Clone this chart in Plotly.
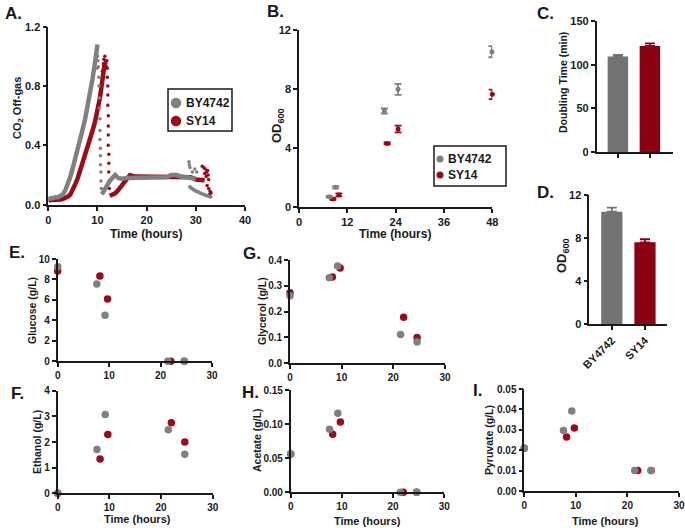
import plotly.graph_objects as go

# ---------------- data ----------------
strains = ["BY4742", "SY14"]

# A. CO2 off-gas
a_by_rise_t = [0, 0.5, 1, 1.5, 2, 2.5, 3, 3.5, 4, 4.5, 5, 5.5, 6, 6.5, 7, 7.5, 8, 8.5, 9, 9.5, 10]
a_by_rise_v = [0.04, 0.04, 0.045, 0.05, 0.05, 0.06, 0.07, 0.1, 0.14, 0.19, 0.25, 0.31, 0.37, 0.44, 0.51, 0.58, 0.66, 0.75, 0.85, 0.96, 1.08]
a_by_drop_t = [9.9, 10.0, 10.1, 10.2, 10.3, 10.3, 10.4, 10.4, 10.5, 10.5, 10.5, 10.6, 10.6, 10.6, 10.7, 10.7, 10.8]
a_by_drop_v = [0.92, 1.0, 0.97, 0.93, 0.86, 0.8, 0.72, 0.65, 0.58, 0.5, 0.44, 0.38, 0.33, 0.27, 0.22, 0.16, 0.11]
a_by_plat_t = [10.9, 11.2, 11.6, 12.0, 12.5, 13.0, 13.6, 14.2, 15, 16, 18, 20, 22, 24, 25, 26, 27, 28, 29, 30]
a_by_plat_v = [0.07, 0.09, 0.11, 0.13, 0.16, 0.18, 0.2, 0.18, 0.175, 0.18, 0.18, 0.18, 0.18, 0.185, 0.2, 0.2, 0.19, 0.185, 0.18, 0.175]
a_by_tail_t = [28.8, 29.2, 29.6, 30.0, 30.5, 31.0, 31.5, 32.0, 32.5, 33.0]
a_by_tail_v = [0.12, 0.11, 0.1, 0.092, 0.085, 0.078, 0.07, 0.064, 0.058, 0.054]
a_by_spike_t = [28.6, 28.7, 28.8, 29.3, 29.8, 30.2]
a_by_spike_v = [0.29, 0.27, 0.25, 0.22, 0.24, 0.22]

a_sy_rise_t = [0, 0.5, 1, 1.5, 2, 2.5, 3, 3.5, 4, 4.5, 5, 5.5, 6, 6.5, 7, 7.5, 8, 8.5, 9, 9.5, 10, 10.5, 11, 11.5]
a_sy_rise_v = [0.03, 0.03, 0.03, 0.03, 0.035, 0.035, 0.04, 0.045, 0.055, 0.07, 0.1, 0.14, 0.18, 0.23, 0.28, 0.33, 0.38, 0.44, 0.5, 0.56, 0.63, 0.72, 0.84, 0.96]
a_sy_drop_t = [11.0, 11.2, 11.3, 11.5, 11.6, 11.7, 11.8, 11.9, 12.0, 12.0, 12.1, 12.1, 12.1, 12.2, 12.2, 12.2, 12.2, 12.3, 12.3, 12.3, 12.4, 12.4]
a_sy_drop_v = [0.9, 0.95, 0.98, 1.0, 0.97, 0.95, 0.93, 0.97, 0.92, 0.86, 0.8, 0.74, 0.67, 0.6, 0.53, 0.47, 0.4, 0.34, 0.28, 0.22, 0.16, 0.11]
a_sy_plat_t = [12.5, 13.0, 13.5, 14.0, 14.5, 15.0, 15.5, 16.0, 16.6, 17.5, 19, 21, 23, 25, 27, 29, 30, 31, 31.8]
a_sy_plat_v = [0.06, 0.065, 0.075, 0.09, 0.11, 0.13, 0.15, 0.17, 0.2, 0.19, 0.19, 0.19, 0.19, 0.19, 0.19, 0.185, 0.17, 0.165, 0.165]
a_sy_tail_t = [31.3, 31.6, 31.9, 32.2, 32.5, 31.8, 32.1, 32.4, 32.6, 32.3, 32.6, 32.9, 33.1, 32.8]
a_sy_tail_v = [0.26, 0.25, 0.24, 0.22, 0.2, 0.21, 0.19, 0.23, 0.17, 0.13, 0.11, 0.09, 0.08, 0.07]

# B. OD600 over time
b_by_t = [7.5, 9.1, 21.2, 24.6, 47.9]
b_by_od = [0.68, 1.32, 6.5, 7.97, 10.53]
b_by_err = [0.06, 0.08, 0.17, 0.37, 0.38]
b_sy_t = [8.4, 9.9, 21.9, 24.6, 48.0]
b_sy_od = [0.52, 0.8, 4.3, 5.28, 7.63]
b_sy_err = [0.06, 0.1, 0.06, 0.23, 0.32]

# C. doubling time (min), D. final OD600
c_doubling = [109.5, 121.7]
c_doubling_err = [2.0, 3.0]
d_od = [10.47, 7.62]
d_od_err = [0.38, 0.28]

# E-I. metabolites (g/L)
t_by = [0, 7.6, 9.2, 21.4, 24.6]
t_sy = [0, 8.2, 9.7, 22.0, 24.6]
glucose_by = [9.25, 7.56, 4.5, 0, 0]
glucose_sy = [8.83, 8.34, 6.09, 0, 0]
glycerol_by = [0.262, 0.331, 0.377, 0.112, 0.0825]
glycerol_sy = [0.273, 0.334, 0.369, 0.178, 0.1]
ethanol_by = [0, 1.71, 3.07, 2.48, 1.52]
ethanol_sy = [0, 1.34, 2.29, 2.75, 2.0]
acetate_by = [0.0562, 0.0924, 0.1158, 0, 0]
acetate_sy = [0.056, 0.085, 0.103, 0, 0]
pyruvate_by = [0.0211, 0.0296, 0.0392, 0.01, 0.01]
pyruvate_sy = [0.021, 0.0265, 0.0309, 0.01, 0.01]

# ---------------- styling ----------------
W, H = 685, 528
GREY = "#808080"
RED = "#9b0a17"
BAR_GREY = "#737373"
BAR_RED = "#8b0012"
INK = "#1a1a1a"
FONT = "Liberation Sans, Arial, sans-serif"

fig = go.Figure()


def ax(i):
    return ("x" if i == 1 else f"x{i}"), ("y" if i == 1 else f"y{i}")


def scat(i, x, y, color, size, mode="markers", lw=0, **kw):
    xa, ya = ax(i)
    d = dict(x=x, y=y, mode=mode, xaxis=xa, yaxis=ya, showlegend=False,
             cliponaxis=False, hoverinfo="x+y")
    if "markers" in mode:
        d["marker"] = dict(color=color, size=size, line=dict(width=0))
    if "lines" in mode:
        d["line"] = dict(color=color, width=lw)
    d.update(kw)
    fig.add_trace(go.Scatter(**d))


# A (red first so grey sits on top)
scat(1, a_sy_rise_t, a_sy_rise_v, RED, 0, mode="lines", lw=4.5, name="SY14")
scat(1, a_sy_plat_t, a_sy_plat_v, RED, 0, mode="lines", lw=4.5, name="SY14")
scat(1, a_sy_drop_t, a_sy_drop_v, RED, 3.5, name="SY14")
scat(1, a_sy_tail_t, a_sy_tail_v, RED, 3.5, name="SY14")
scat(1, a_by_rise_t, a_by_rise_v, GREY, 0, mode="lines", lw=4.5, name="BY4742")
scat(1, a_by_plat_t, a_by_plat_v, GREY, 0, mode="lines", lw=4.5, name="BY4742")
scat(1, a_by_drop_t, a_by_drop_v, GREY, 3.5, name="BY4742")
scat(1, a_by_tail_t, a_by_tail_v, GREY, 4, name="BY4742")
scat(1, a_by_spike_t, a_by_spike_v, GREY, 3.5, name="BY4742")

# B
scat(2, b_sy_t, b_sy_od, RED, 5, name="SY14",
     error_y=dict(type="data", array=b_sy_err, color=RED, thickness=1.8, width=3.5))
scat(2, b_by_t, b_by_od, GREY, 5, name="BY4742",
     error_y=dict(type="data", array=b_by_err, color=GREY, thickness=1.8, width=3.5))

# C and D bars
for i, vals, errs in [(3, c_doubling, c_doubling_err), (4, d_od, d_od_err)]:
    xa, ya = ax(i)
    for k, col in enumerate([BAR_GREY, BAR_RED]):
        fig.add_trace(go.Bar(x=[strains[k]], y=[vals[k]], xaxis=xa, yaxis=ya,
                             marker=dict(color=col, line=dict(width=0)), width=0.64,
                             showlegend=False, name=strains[k],
                             error_y=dict(type="data", symmetric=False, array=[errs[k]],
                                          arrayminus=[0], color=col, thickness=1.8, width=5)))

# E-I
for i, ysy, yby in [(5, glucose_sy, glucose_by), (6, glycerol_sy, glycerol_by),
                    (7, ethanol_sy, ethanol_by), (8, acetate_sy, acetate_by),
                    (9, pyruvate_sy, pyruvate_by)]:
    scat(i, t_sy, ysy, RED, 7.5, name="SY14")
    scat(i, t_by, yby, GREY, 7.5, name="BY4742")

# ---------------- axes ----------------
# panel boxes in pixels: (left, right, top, bottom)
boxes = {
    1: (48.3, 245.0, 26.7, 204.7),
    2: (299.0, 492.3, 30.0, 206.7),
    3: (596.7, 672.7, 21.3, 152.0),
    4: (589.3, 666.7, 195.3, 324.0),
    5: (57.7, 212.0, 259.0, 361.3),
    6: (290.0, 445.0, 260.0, 363.3),
    7: (57.7, 212.7, 390.7, 493.3),
    8: (290.7, 444.3, 390.0, 492.3),
    9: (524.3, 679.0, 389.0, 491.0),
}
ranges = {
    1: ([0, 40], 10, [0, 1.2], 0.4, ".1f"),
    2: ([0, 48], 12, [0, 12], 4, "d"),
    3: ([-0.6625, 1.7125], None, [0, 150], 50, "d"),
    4: ([-0.68, 1.655], None, [0, 12], 4, "d"),
    5: ([0, 30], 10, [0, 10], 2, "d"),
    6: ([0, 30], 10, [0, 0.4], 0.1, ".1f"),
    7: ([0, 30], 10, [0, 4], 1, "d"),
    8: ([0, 30], 10, [0, 0.15], 0.05, ".2f"),
    9: ([0, 30], 10, [0, 0.05], 0.01, ".2f"),
}

layout_axes = {}
for i, (l, r, t, b) in boxes.items():
    xr, xd, yr, yd, yf = ranges[i]
    fs = 11 if i <= 4 else 10
    common = dict(showline=True, linecolor=INK, linewidth=1.6, ticks="outside", ticklen=4,
                  tickwidth=1.6, tickcolor=INK, showgrid=False, zeroline=False, automargin=False,
                  tickfont=dict(family=FONT, size=fs, color=INK, weight="bold"), fixedrange=True)
    xa_name = "xaxis" if i == 1 else f"xaxis{i}"
    ya_name = "yaxis" if i == 1 else f"yaxis{i}"
    xa = dict(common, domain=[l / W, r / W], range=xr, anchor=ax(i)[1])
    if xd is not None:
        xa.update(dtick=xd, tick0=0, tickformat="d")
    else:
        xa.update(type="category")
        if i == 3:
            xa.update(showticklabels=False)
        else:
            xa.update(tickangle=-45, tickfont=dict(family=FONT, size=11, color=INK, weight="bold"))
    ya = dict(common, domain=[1 - b / H, 1 - t / H], range=yr, dtick=yd, tick0=0,
              tickformat=yf, anchor=ax(i)[0])
    layout_axes[xa_name] = xa
    layout_axes[ya_name] = ya

# ---------------- annotations ----------------
ann = []


def text(s, xpx, ypx, size, angle=0, xanchor="center", yanchor="middle"):
    ann.append(dict(text=s, x=xpx / W, y=1 - ypx / H, xref="paper", yref="paper",
                    showarrow=False, textangle=angle, xanchor=xanchor, yanchor=yanchor,
                    font=dict(family=FONT, size=size, color=INK, weight="bold")))


# panel letters
for s, xp, yp in [("A.", 3, 13), ("B.", 265, 12), ("C.", 535, 14), ("D.", 535, 192),
                  ("E.", 7, 252), ("G.", 241, 253), ("F.", 9, 393), ("H.", 240, 392),
                  ("I.", 471, 390)]:
    text(s, xp, yp, 17, xanchor="left")

# axis titles
text("CO<sub>2</sub> Off-gas", 18, 108, 11, angle=-90)
text("Time (hours)", 146, 234, 12)
text("OD<sub>600</sub>", 277, 126, 13, angle=-90)
text("Time (hours)", 395, 234, 12)
text("Doubling Time (min)", 563, 83, 10.5, angle=-90)
text("OD<sub>600</sub>", 562, 256, 13, angle=-90)
text("Glucose (g/L)", 32, 310, 10.5, angle=-90)
text("Glycerol (g/L)", 262, 311, 10.5, angle=-90)
text("Ethanol (g/L)", 37, 442, 10.5, angle=-90)
text("Acetate (g/L)", 257, 440, 10.5, angle=-90)
text("Pyruvate (g/L)", 489, 440, 10.5, angle=-90)
text("Time (hours)", 137, 518.5, 11)
text("Time (hours)", 367, 521, 11)
text("Time (hours)", 605, 521, 11)

# ---------------- manual legends ----------------
shapes = []


def rect(x0, y0, x1, y1):
    shapes.append(dict(type="rect", xref="paper", yref="paper", x0=x0 / W, x1=x1 / W,
                       y0=1 - y1 / H, y1=1 - y0 / H, line=dict(color=INK, width=1.5),
                       fillcolor="white", layer="above"))


def dot(cx, cy, r, col):
    shapes.append(dict(type="circle", xref="paper", yref="paper", x0=(cx - r) / W,
                       x1=(cx + r) / W, y0=1 - (cy + r) / H, y1=1 - (cy - r) / H,
                       line=dict(width=0), fillcolor=col, layer="above"))


rect(168, 89, 232, 131)
dot(176, 103, 5.2, GREY)
dot(176, 121, 5.2, RED)
text(strains[0], 184, 103, 12, xanchor="left")
text(strains[1], 184, 121, 12, xanchor="left")

rect(434, 146, 506, 186)
dot(440, 159, 3.5, GREY)
dot(440, 175, 3.5, RED)
text(strains[0], 446, 159, 12, xanchor="left")
text(strains[1], 446, 175, 12, xanchor="left")

fig.update_layout(
    width=W, height=H, autosize=False,
    margin=dict(l=0, r=0, t=0, b=0, pad=0, autoexpand=False),
    paper_bgcolor="white", plot_bgcolor="rgba(0,0,0,0)",
    font=dict(family=FONT, color=INK),
    showlegend=False, barmode="overlay",
    annotations=ann, shapes=shapes,
    **layout_axes,
)

fig.write_html(
    "out.html",
    config={"displayModeBar": False},
    post_script="document.documentElement.style.margin='0';document.body.style.margin='0';"
                "document.body.style.padding='0';document.body.style.overflow='hidden';",
)
